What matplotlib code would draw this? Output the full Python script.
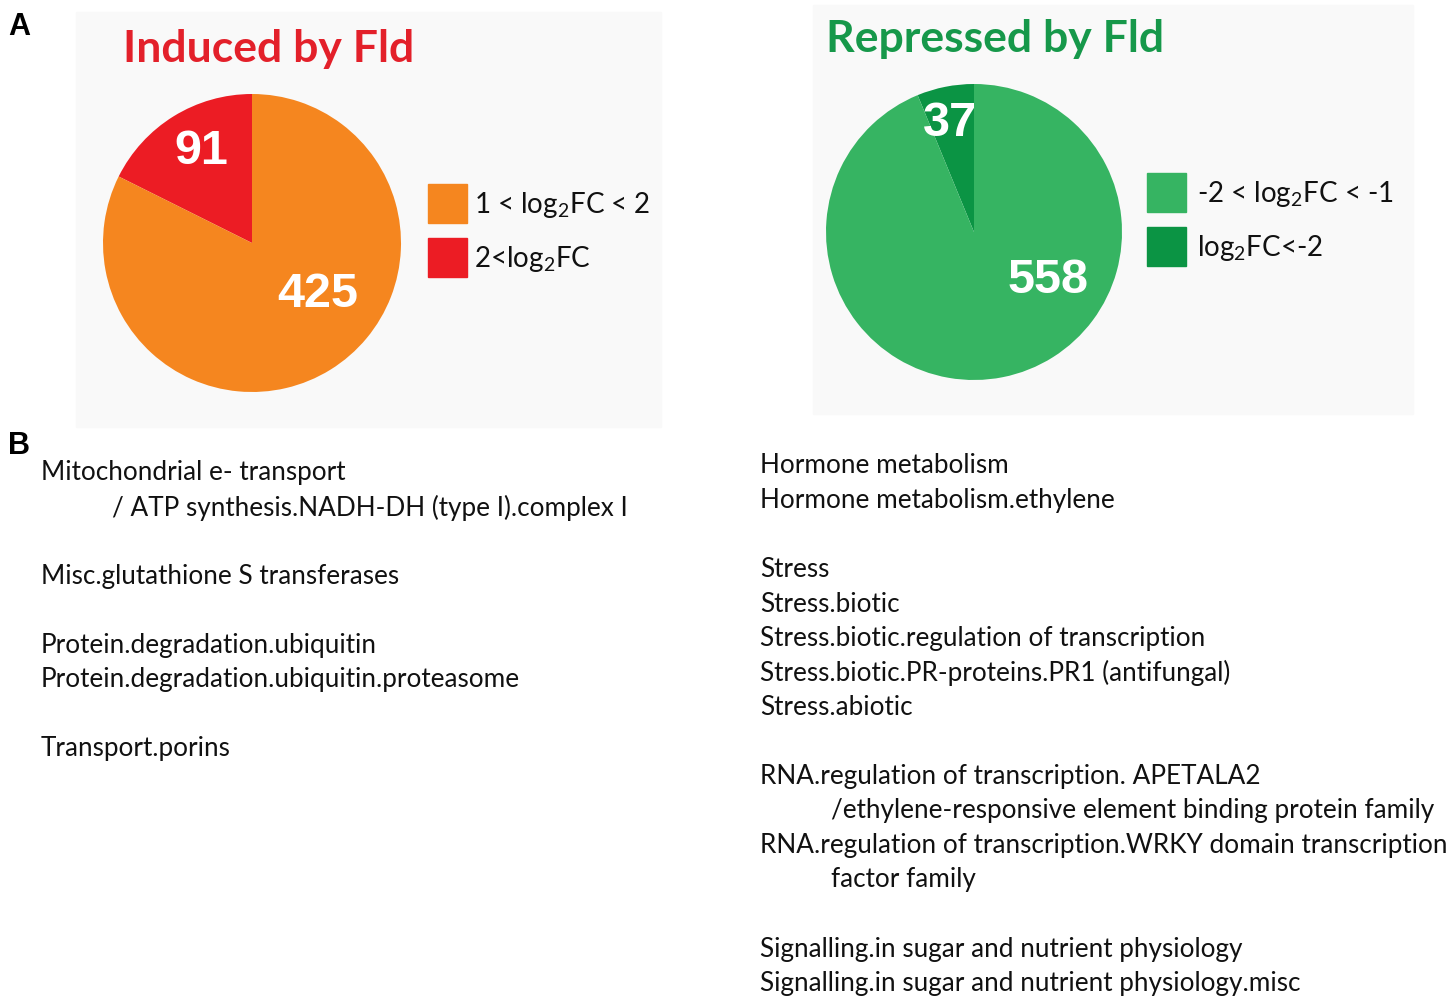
import matplotlib
matplotlib.use("Agg")
import matplotlib.pyplot as plt
from matplotlib.patches import Rectangle

W, H = 1450, 1003

# pie data
induced_counts = [91, 425]
induced_labels = ["2<log$_2$FC", "1 < log$_2$FC < 2"]
repressed_counts = [37, 558]
repressed_labels = ["log$_2$FC<-2", "-2 < log$_2$FC < -1"]

induced_colors = ["#ec1c24", "#f5861f"]
repressed_colors = ["#0b9444", "#36b462"]

# MapMan categories (panel B)
induced_terms = [
    "Mitochondrial e- transport",
    "    / ATP synthesis.NADH-DH (type I).complex I",
    "",
    "Misc.glutathione S transferases",
    "",
    "Protein.degradation.ubiquitin",
    "Protein.degradation.ubiquitin.proteasome",
    "",
    "Transport.porins",
]
repressed_terms = [
    "Hormone metabolism",
    "Hormone metabolism.ethylene",
    "",
    "Stress",
    "Stress.biotic",
    "Stress.biotic.regulation of transcription",
    "Stress.biotic.PR-proteins.PR1 (antifungal)",
    "Stress.abiotic",
    "",
    "RNA.regulation of transcription. APETALA2",
    "    /ethylene-responsive element binding protein family",
    "RNA.regulation of transcription.WRKY domain transcription",
    "    factor family",
    "",
    "Signalling.in sugar and nutrient physiology",
    "Signalling.in sugar and nutrient physiology.misc",
]

plt.rcParams['font.family'] = ['Lato', 'DejaVu Sans']
plt.rcParams['mathtext.fontset'] = 'custom'
plt.rcParams['mathtext.rm'] = 'Lato'
plt.rcParams['mathtext.it'] = 'Lato'


def fx(x):
    return x / W


def fy(y):
    return 1 - y / H


fig = plt.figure(figsize=(W / 100, H / 100), dpi=100)

# light grey panels behind the pies
fig.patches.append(Rectangle((fx(76), fy(428)), fx(661) - fx(76), fy(13) - fy(428),
                             transform=fig.transFigure, color="#f9f9f9", zorder=-5))
fig.patches.append(Rectangle((fx(813), fy(415)), fx(1413) - fx(813), fy(6) - fy(415),
                             transform=fig.transFigure, color="#f9f9f9", zorder=-5))


def draw_pie(cx, cy, r, counts, colors, label_pos, labels, title, title_color, title_xy,
             leg_x, leg_y, leg_text_x):
    ax = fig.add_axes([fx(cx - r), fy(cy + r), (2 * r) / W, (2 * r) / H])
    ax.set_zorder(2)
    ax.patch.set_visible(False)
    ax.pie(counts, colors=colors, startangle=90, counterclock=True,
           wedgeprops=dict(linewidth=0))
    ax.set_xlim(-1, 1)
    ax.set_ylim(-1, 1)
    ax.set_aspect('equal')
    ax.axis('off')
    for n, (x, y) in zip(counts, label_pos):
        ax.text(x, y, str(n), color="white", fontsize=35, fontweight='bold',
                family='Liberation Sans', ha='center', va='center')
    fig.text(fx(title_xy[0]), fy(title_xy[1]), title, color=title_color, fontsize=32,
             fontweight='bold', ha='left', va='baseline')
    # legend squares, top entry is the second wedge
    for i, k in enumerate([1, 0]):
        y0 = leg_y[i]
        fig.patches.append(Rectangle((fx(leg_x), fy(y0 + 39)), 39 / W, 39 / H,
                                     transform=fig.transFigure, color=colors[k]))
        fig.text(fx(leg_text_x), fy(y0 + 20), labels[k], fontsize=20, color="#111111",
                 ha='left', va='center')


draw_pie(252, 244, 149, induced_counts, induced_colors,
         [(-0.34, 0.62), (0.44, -0.34)], induced_labels,
         "Induced by Fld", "#e3202a", (123, 62), 428, [185, 239], 474)
draw_pie(974, 233, 148, repressed_counts, repressed_colors,
         [(-0.16, 0.74), (0.50, -0.32)], repressed_labels,
         "Repressed by Fld", "#16984a", (826, 52), 1147, [174, 228], 1197)

# panel letters
fig.text(fx(8), fy(35), "A", fontsize=22, fontweight='bold', family='Liberation Sans')
fig.text(fx(8), fy(454), "B", fontsize=22, fontweight='bold', family='Liberation Sans')

# category lists
step = 34.5
for x0, y0, terms in [(41, 473, induced_terms), (760, 466, repressed_terms)]:
    for i, t in enumerate(terms):
        if not t:
            continue
        x = x0
        if t.startswith("    "):
            x = x0 + 71
            t = t.strip()
        fig.text(fx(x), fy(y0 + i * step), t, fontsize=18.8, color="#111111",
                 ha='left', va='center')

fig.savefig("out.png", dpi=100)
